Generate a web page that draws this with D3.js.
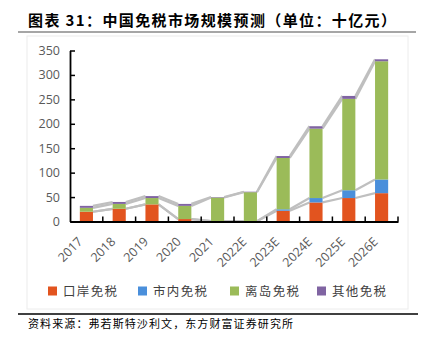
<!DOCTYPE html>
<html><head><meta charset="utf-8">
<script src="https://cdn.jsdelivr.net/npm/d3@7/dist/d3.min.js"></script>
<style>body{margin:0;background:#fff}svg{display:block}</style>
</head><body>
<svg id="c" width="433" height="342"></svg>
<script>
const categories = ["2017","2018","2019","2020","2021","2022E","2023E","2024E","2025E","2026E"];
const seriesNames = ["口岸免税","市内免税","离岛免税","其他免税"];
const portDF   = [20, 26, 35, 5, 1, 0.5, 22, 39, 48, 58];
const cityDF   = [0, 0, 0, 0, 0, 0, 3, 9, 16, 28];
const islandDF = [8, 10, 13, 27, 48, 59.5, 105, 142, 187, 242];
const otherDF  = [4, 4, 4, 4, 1, 1, 4, 5, 6, 4];
const yTicks = [0,50,100,150,200,250,300,350];
const colors = ["#E2541F","#4A8FDB","#9BBB59","#8064A2"];
const titleText = "图表 31：中国免税市场规模预测（单位：十亿元）";
const sourceText = "资料来源：弗若斯特沙利文，东方财富证券研究所";

const svg = d3.select("#c");
const series = [portDF, cityDF, islandDF, otherDF];
const rows = categories.map((c,i)=>{const o={cat:c}; seriesNames.forEach((s,j)=>o[s]=series[j][i]); return o;});
const stacked = d3.stack().keys(seriesNames)(rows);

// title
svg.append("text").attr("x",28).attr("y",26).attr("font-family","Noto Sans CJK SC").attr("font-weight","bold")
  .attr("font-size",15).attr("fill","#000").attr("textLength",368).attr("lengthAdjust","spacing").text(titleText);
svg.append("line").attr("x1",18).attr("x2",416).attr("y1",32).attr("y2",32).attr("stroke","#a6a6a6").attr("stroke-width",2);

// chart frame
svg.append("rect").attr("x",27).attr("y",36).attr("width",381).attr("height",273).attr("fill","none").attr("stroke","#ececec").attr("stroke-width",1);

const x = d3.scaleBand().domain(categories).range([70,398]).paddingInner(0.6).paddingOuter(0.3);
const xb = d3.scaleBand().domain(categories).range([70,398]);
const y = d3.scaleLinear().domain([0,350]).range([221.5,50.5]);

// series lines
const bw = x.bandwidth();
const lineG = svg.append("g");
stacked.forEach(layer=>{
  for(let i=0;i<categories.length-1;i++){
    lineG.append("line")
      .attr("x1",x(categories[i])+bw).attr("y1",y(layer[i][1]))
      .attr("x2",x(categories[i+1])).attr("y2",y(layer[i+1][1]))
      .attr("stroke","#bfbfbf").attr("stroke-width",2.2);
  }
});

// bars
svg.append("g").selectAll("g").data(stacked).join("g").attr("fill",(d,i)=>colors[i])
  .selectAll("rect").data(d=>d).join("rect")
  .attr("x",d=>x(d.data.cat)).attr("width",bw)
  .attr("y",d=>y(d[1])).attr("height",d=>Math.max(0,y(d[0])-y(d[1])));

// y axis
const yAxis = svg.append("g").attr("transform","translate(70,0)")
  .call(d3.axisRight(y).tickValues(yTicks).tickSize(5).tickSizeOuter(0));
yAxis.select(".domain").attr("stroke","#000").attr("stroke-width",1.8);
yAxis.selectAll(".tick line").attr("stroke","#000").attr("stroke-width",1.5);
yAxis.selectAll(".tick text").attr("x",-10).attr("text-anchor","end").attr("font-family","Open Sans")
  .attr("font-size",12.5).attr("fill","#595959");

// x axis
const xAxis = svg.append("g").attr("transform","translate(0,221.5)")
  .call(d3.axisBottom(xb).tickSize(0).tickSizeOuter(0));
xAxis.select(".domain").attr("stroke","#000").attr("stroke-width",1.8);
const boundaries = categories.map(c=>xb(c)).concat([398]).slice(1);
xAxis.selectAll(".bnd").data(boundaries).join("line").attr("class","bnd")
  .attr("x1",d=>d).attr("x2",d=>d).attr("y1",0).attr("y2",-5).attr("stroke","#000").attr("stroke-width",1.5);
xAxis.selectAll(".tick text").attr("font-family","Open Sans").attr("font-size",12.5).attr("fill","#595959")
  .attr("text-anchor","end").attr("dy",0).attr("y",0)
  .attr("transform","translate(-3,21) rotate(-45)");

// legend
const legX = [48,138,230,317];
const leg = svg.append("g");
seriesNames.forEach((s,i)=>{
  leg.append("rect").attr("x",legX[i]).attr("y",286.5).attr("width",9).attr("height",9).attr("fill",colors[i]);
  leg.append("text").attr("x",legX[i]+15).attr("y",295.5).attr("font-family","Noto Sans CJK SC")
    .attr("font-size",12.5).attr("fill","#404040").attr("textLength",54).attr("lengthAdjust","spacing").text(s);
});

// bottom line and source
svg.append("line").attr("x1",18).attr("x2",418).attr("y1",314).attr("y2",314).attr("stroke","#000").attr("stroke-width",1.3);
svg.append("text").attr("x",28).attr("y",327.5).attr("font-family","Noto Sans CJK SC").attr("font-size",11)
  .attr("fill","#000").attr("textLength",265).attr("lengthAdjust","spacing").text(sourceText);
</script>
</body></html>
